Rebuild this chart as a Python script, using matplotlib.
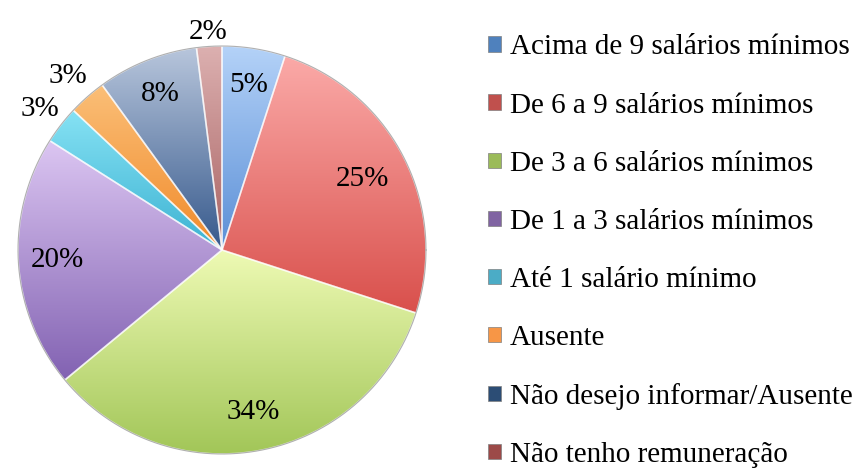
import numpy as np
import matplotlib
matplotlib.use('Agg')
import matplotlib.pyplot as plt
from matplotlib.patches import Patch
from matplotlib.colors import to_rgb

categorias = ['Acima de 9 salários mínimos', 'De 6 a 9 salários mínimos',
              'De 3 a 6 salários mínimos', 'De 1 a 3 salários mínimos',
              'Até 1 salário mínimo', 'Ausente',
              'Não desejo informar/Ausente', 'Não tenho remuneração']
valores = [5, 25, 34, 20, 3, 3, 8, 2]

# cor clara (topo) e escura (base) de cada fatia
cor_topo = ['#b4d2f8', '#fbaaa8', '#eefab4', '#dcc6f2', '#86e2f4', '#fbbf78', '#b8c6dc', '#dcb0b0']
cor_base = ['#5b8fd6', '#d9504c', '#a2c658', '#8262b2', '#3cb2d2', '#f08a2a', '#36598c', '#a86262']
cor_leg = ['#4f81bd', '#c0504d', '#9bbb59', '#8064a2', '#4bacc6', '#f79646', '#2c4d75', '#9c4a48']
dist_rotulo = [0.82, 0.77, 0.81, 0.81, 1.13, 1.14, 0.82, 1.07]

plt.rcParams['font.family'] = ['Liberation Serif', 'DejaVu Serif']

fig = plt.figure(figsize=(8.56, 4.75), dpi=100)
ax = fig.add_axes([-0.0028, 0.0013, 0.5243, 0.9448])

wedges, _ = ax.pie(valores, startangle=90, counterclock=False, colors=cor_leg,
                   wedgeprops=dict(edgecolor='none'))

for w, c1, c2 in zip(wedges, cor_topo, cor_base):
    ext = w.get_path().get_extents()
    t = np.linspace(0, 1, 200)[:, None]
    grad = (1 - t) * np.array(to_rgb(c1)) + t * np.array(to_rgb(c2))
    img = ax.imshow(grad[:, None, :].repeat(2, axis=1),
                    extent=[ext.x0, ext.x1, ext.y0, ext.y1],
                    origin='upper', aspect='auto', zorder=2, interpolation='bilinear')
    img.set_clip_path(w)
    w.set_facecolor('none')
    w.set_edgecolor((1, 1, 1, 0.6))
    w.set_linewidth(1.2)
    w.set_zorder(3)

# contorno externo
ang = np.linspace(0, 2 * np.pi, 400)
ax.plot(np.cos(ang), np.sin(ang), color='#b0b0b0', lw=0.8, zorder=4)

acum = np.cumsum([0] + valores[:-1])
for v, a0, d in zip(valores, acum, dist_rotulo):
    meio = np.deg2rad(90 - (a0 + v / 2) / sum(valores) * 360)
    ax.text(d * np.cos(meio), d * np.sin(meio), f'{v}%', ha='center', va='center',
            fontsize=21, zorder=5)

ax.set_xlim(-1.1, 1.1)
ax.set_ylim(-1.1, 1.1)
ax.set_aspect('equal')
ax.axis('off')

handles = [Patch(facecolor=c, edgecolor='#808080', linewidth=0.5) for c in cor_leg]
fig.legend(handles, categorias, loc='upper left', bbox_to_anchor=(0.557, 0.952),
           frameon=False, fontsize=21, handlelength=0.43, handleheight=0.43,
           handletextpad=0.3, labelspacing=1.1, borderaxespad=0)

fig.savefig('out.png', dpi=100)
